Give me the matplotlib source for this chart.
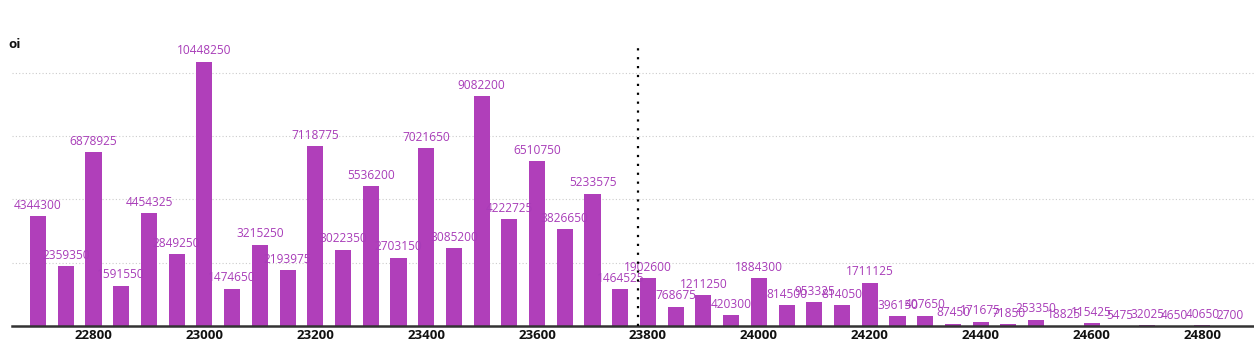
import matplotlib.pyplot as plt

strikes = list(range(22700, 24851, 50))
oi = [
    4344300, 2359350, 6878925, 1591550, 4454325, 2849250, 10448250, 1474650,
    3215250, 2193975, 7118775, 3022350, 5536200, 2703150, 7021650, 3085200,
    9082200, 4222725, 6510750, 3826650, 5233575, 1464525, 1902600, 768675,
    1211250, 420300, 1884300, 814500, 953325, 814050, 1711125, 396150,
    407650, 87450, 171675, 71850, 253350, 18825, 115425, 5475,
    32025, 4650, 40650, 2700,
]
spot = 23782
xticks = [22800, 23000, 23200, 23400, 23600, 23800, 24000, 24200, 24400, 24600, 24800]

fig = plt.figure(figsize=(12.54, 3.48), dpi=100)
ax = fig.add_axes([12 / 1254, 22 / 348, 1 - 12 / 1254, 286 / 348])

ax.bar(strikes, oi, width=29, color="#b03fba", zorder=2)
for x, v in zip(strikes, oi):
    ax.text(x, v + 170000, str(v), ha="center", va="bottom",
            fontsize=8.6, color="#a83cb8", family="Open Sans", zorder=3)

ax.axvline(spot, ymax=278 / 286, color="black", linestyle=(0, (1, 3)),
           linewidth=1.6, zorder=4)

ax.set_xlim(22653, 24893)
ax.set_ylim(0, 11300000)
ax.set_yticks([2500000, 5000000, 7500000, 10000000])
ax.yaxis.grid(True, color="#cccccc", linestyle=(0, (1, 2)), linewidth=0.8, zorder=0)
ax.tick_params(axis="y", left=False, labelleft=False)
ax.set_xticks(xticks)
ax.set_xticklabels([str(t) for t in xticks], fontsize=9.5, fontweight="bold",
                   family="Open Sans", color="#111111")
ax.tick_params(axis="x", length=0, pad=2)

for s in ["top", "right", "left"]:
    ax.spines[s].set_visible(False)
ax.spines["bottom"].set_color("#333333")
ax.spines["bottom"].set_linewidth(1.8)

fig.text(8 / 1254, 1 - 45 / 348, "oi", fontsize=9.5, fontweight="bold",
         family="Open Sans", color="#111111", va="center")

fig.savefig("out.png", dpi=100)
